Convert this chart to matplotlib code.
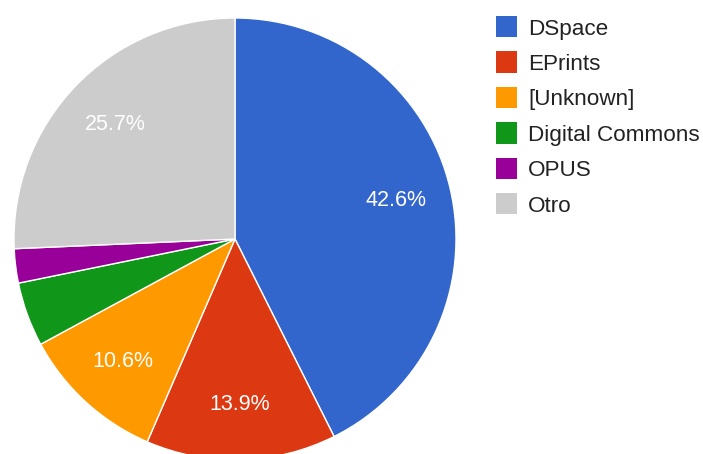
import matplotlib
matplotlib.use("Agg")
import matplotlib.pyplot as plt
from matplotlib.patches import Rectangle

plt.rcParams['font.family'] = ['Liberation Sans', 'DejaVu Sans']

categories = ["DSpace", "EPrints", "[Unknown]", "Digital Commons", "OPUS", "Otro"]
values = [42.6, 13.9, 10.6, 4.7, 2.5, 25.7]
colors = ["#3366cc", "#dc3912", "#ff9900", "#109618", "#990099", "#cccccc"]

W, H = 703, 454
fig = plt.figure(figsize=(W / 100, H / 100), dpi=100)

cx, cy, r = 235, 239, 221
ax = fig.add_axes([(cx - r) / W, (H - cy - r) / H, 2 * r / W, 2 * r / H])


def fmt(p):
    return f"{p:.1f}%" if p >= 5 else ""


wedges, texts, autotexts = ax.pie(
    values, colors=colors, startangle=90, counterclock=False,
    autopct=fmt, pctdistance=0.75, radius=1,
    wedgeprops=dict(edgecolor="white", linewidth=1),
    textprops=dict(color="white", fontsize=15.5))
ax.set_xlim(-1, 1)
ax.set_ylim(-1, 1)
ax.set_aspect("equal")
ax.axis("off")

# legend
x0, y0, step, sq = 496, 26.5, 35.5, 21
for i, (cat, col) in enumerate(zip(categories, colors)):
    yc = y0 + i * step
    fig.patches.append(Rectangle((x0 / W, (H - yc - sq / 2) / H), sq / W, sq / H,
                                 transform=fig.transFigure, facecolor=col,
                                 edgecolor="none"))
    fig.text(528 / W, (H - yc) / H, cat, fontsize=16.2, color="#222222",
             va="center_baseline", ha="left")

fig.savefig("out.png", dpi=100)
